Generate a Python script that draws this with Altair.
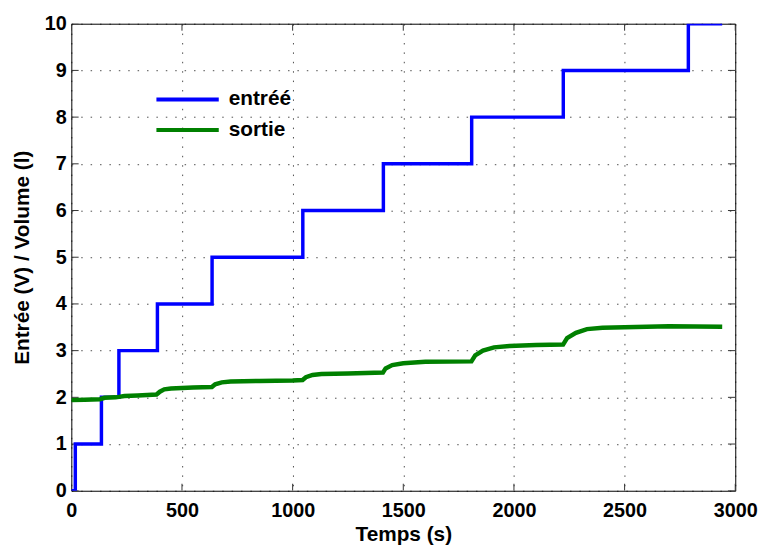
import altair as alt
import pandas as pd

# entrée (step input)
t_in = [0, 18, 136, 215, 389, 636, 1046, 1410, 1809, 2223, 2788, 2941]
v_in = [0, 1, 2, 3, 4, 5, 6, 7, 8, 9, 10, 10]

# sortie (measured volume)
t_out = [0, 60, 130, 150, 200, 215, 240, 300, 385, 400, 420, 450, 550, 635, 650, 680, 720,
         850, 1000, 1045, 1060, 1090, 1130, 1250, 1408, 1420, 1450, 1500, 1600, 1808, 1825,
         1860, 1910, 1980, 2100, 2222, 2240, 2280, 2330, 2400, 2600, 2700, 2941]
v_out = [1.94, 1.95, 1.96, 1.99, 2.00, 2.01, 2.03, 2.04, 2.06, 2.12, 2.17, 2.19, 2.21, 2.22, 2.28,
         2.32, 2.34, 2.35, 2.36, 2.37, 2.43, 2.48, 2.50, 2.51, 2.53, 2.62, 2.69, 2.73, 2.76, 2.77,
         2.90, 3.00, 3.07, 3.10, 3.12, 3.13, 3.27, 3.38, 3.46, 3.49, 3.51, 3.52, 3.51]

series_names = ["entréé", "sortie"]
series_colors = ["#0000ff", "#008000"]
x_ticks = [0, 500, 1000, 1500, 2000, 2500, 3000]
y_ticks = [0, 1, 2, 3, 4, 5, 6, 7, 8, 9, 10]
x_min, x_max = 0, 3000
y_min, y_max = 0, 10

df_in = pd.DataFrame({"t": t_in, "v": v_in, "s": series_names[0]})
df_out = pd.DataFrame({"t": t_out, "v": v_out, "s": series_names[1]})

FONT = "Liberation Sans"

x_scale = alt.Scale(domain=[x_min, x_max], nice=False)
y_scale = alt.Scale(domain=[y_min, y_max], nice=False)

x_enc = alt.X("t:Q", scale=x_scale,
              axis=alt.Axis(values=x_ticks, format="d", title="Temps (s)", titlePadding=3,
                            labelPadding=10, labelFlush=False))
y_enc = alt.Y("v:Q", scale=y_scale,
              axis=alt.Axis(values=y_ticks, format="d", title="Entrée (V) / Volume (l)",
                            titlePadding=12, labelPadding=5, labelFlush=False))
color_enc = alt.Color("s:N", scale=alt.Scale(domain=series_names, range=series_colors),
                      legend=alt.Legend(title=None, orient="none", legendX=105, legendY=64,
                                        symbolType="M-3,0H3", symbolSize=441, symbolStrokeWidth=4,
                                        labelFontSize=21, labelFont=FONT, labelFontWeight="bold",
                                        labelOffset=29, rowPadding=8, labelColor="#000"))

line_in = alt.Chart(df_in).mark_line(interpolate="step-after", strokeWidth=3.5, clip=True).encode(
    x=x_enc, y=y_enc, color=color_enc)
line_out = alt.Chart(df_out).mark_line(strokeWidth=4.5, clip=True).encode(
    x=x_enc, y=y_enc, color=color_enc)

# inward tick marks on all four sides (MATLAB style), placed from the tick lists
tick_len_x = (x_max - x_min) * 0.011
tick_len_y = (y_max - y_min) * 0.015
df_xt = pd.DataFrame({"t": x_ticks})
df_yt = pd.DataFrame({"v": y_ticks})
tick_style = dict(color="#333", strokeWidth=1, clip=True)
xt_bottom = alt.Chart(df_xt).mark_rule(**tick_style).encode(
    x=alt.X("t:Q", scale=x_scale), y=alt.datum(y_min), y2=alt.datum(y_min + tick_len_y))
xt_top = alt.Chart(df_xt).mark_rule(**tick_style).encode(
    x=alt.X("t:Q", scale=x_scale), y=alt.datum(y_max), y2=alt.datum(y_max - tick_len_y))
yt_left = alt.Chart(df_yt).mark_rule(**tick_style).encode(
    y=alt.Y("v:Q", scale=y_scale), x=alt.datum(x_min), x2=alt.datum(x_min + tick_len_x))
yt_right = alt.Chart(df_yt).mark_rule(**tick_style).encode(
    y=alt.Y("v:Q", scale=y_scale), x=alt.datum(x_max), x2=alt.datum(x_max - tick_len_x))

chart = alt.layer(xt_bottom, xt_top, yt_left, yt_right, line_in, line_out).properties(
    width=671, height=472,
    autosize=alt.AutoSizeParams(type="none"),
    padding={"left": 64, "top": 13, "right": 25, "bottom": 56},
).configure_view(stroke="#000", strokeWidth=1).configure_axis(
    domain=False, ticks=False,
    grid=True, gridColor="#000", gridDash=[1.5, 8], gridWidth=1, gridOpacity=0.7,
    labelFont=FONT, labelFontSize=20, labelFontWeight="bold", labelColor="#000",
    titleFont=FONT, titleFontSize=21, titleFontWeight="bold", titleColor="#000",
)

chart.save("out.html", embed_options={"renderer": "svg", "actions": False})
